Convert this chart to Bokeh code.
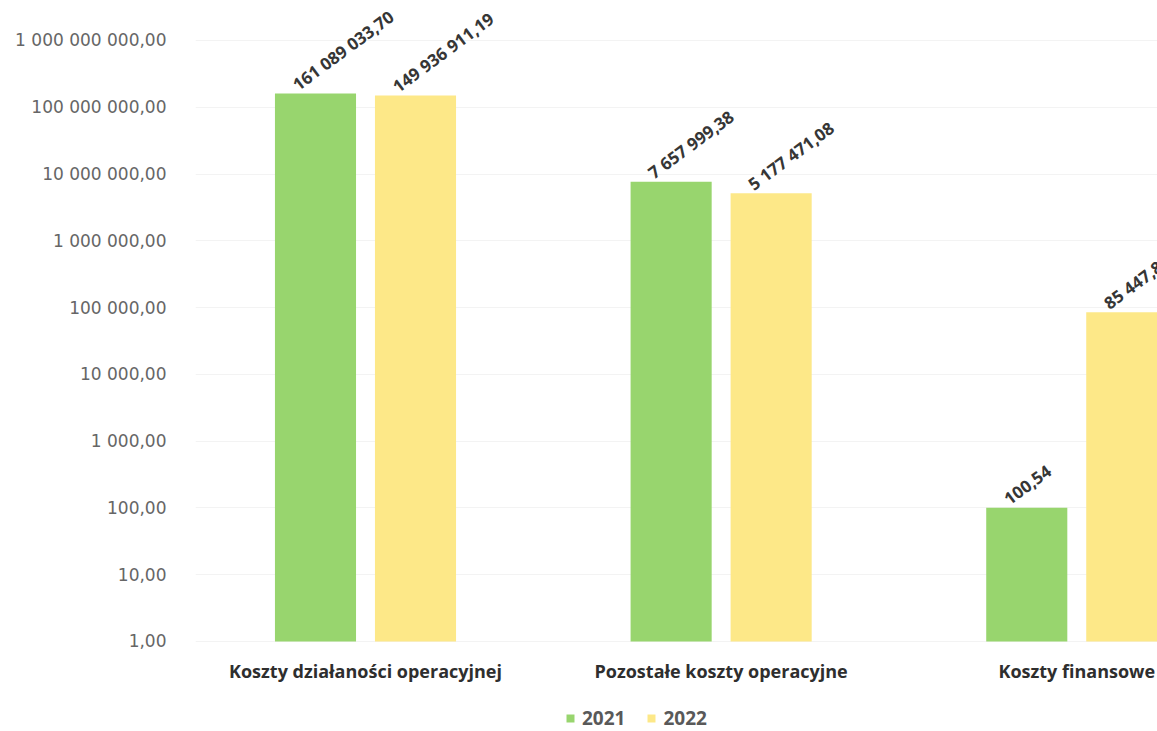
import math
from bokeh.plotting import figure
from bokeh.models import (Range1d, FixedTicker, ColumnDataSource, LabelSet,
                          Legend, LegendItem)
from bokeh.core.properties import value
from bokeh.transform import dodge
from bokeh.embed import file_html
from bokeh.resources import INLINE

# ---- data ----
categories = ["Koszty działaności operacyjnej", "Pozostałe koszty operacyjne", "Koszty finansowe"]
series_names = ["2021", "2022"]
values_2021 = [161089033.70, 7657999.38, 100.54]
values_2022 = [149936911.19, 5177471.08, 85447.88]
labels_2021 = ["161 089 033,70", "7 657 999,38", "100,54"]
labels_2022 = ["149 936 911,19", "5 177 471,08", "85 447,88"]
y_ticks = [1, 10, 100, 1000, 10000, 100000, 1000000, 10000000, 100000000, 1000000000]
y_tick_labels = ["1,00", "10,00", "100,00", "1 000,00", "10 000,00", "100 000,00",
                 "1 000 000,00", "10 000 000,00", "100 000 000,00", "1 000 000 000,00"]

GREEN = "#98d56e"
YELLOW = "#fde888"

idx = list(range(len(categories)))
src = ColumnDataSource(dict(x=idx, v2021=values_2021, v2022=values_2022,
                            l2021=labels_2021, l2022=labels_2022))

p = figure(width=1157, height=731, y_axis_type="log",
           x_range=Range1d(-0.478, 2.227), y_range=Range1d(0.04487, 3.97e9),
           output_backend="svg", toolbar_location=None,
           min_border_left=195, min_border_right=0, min_border_top=0,
           min_border_bottom=0)
p.outline_line_color = None
p.background_fill_color = "white"
p.border_fill_color = "white"

off = 0.1406
bw = 0.228
r1 = p.vbar(x=dodge("x", -off, range=p.x_range), top="v2021", bottom=1, width=bw,
            source=src, fill_color=GREEN, line_color=None)
r2 = p.vbar(x=dodge("x", off, range=p.x_range), top="v2022", bottom=1, width=bw,
            source=src, fill_color=YELLOW, line_color=None)

ang = math.radians(36.5)
lab_kw = dict(angle=ang, x_offset=-17, y_offset=2, text_align="left",
              text_baseline="alphabetic", text_font=value("Open Sans"),
              text_font_style="bold", text_font_size="17px", text_color="#363636")
p.add_layout(LabelSet(x=dodge("x", -off, range=p.x_range), y="v2021", text="l2021",
                      source=src, **lab_kw))
p.add_layout(LabelSet(x=dodge("x", off, range=p.x_range), y="v2022", text="l2022",
                      source=src, **lab_kw))

# y axis
p.yaxis.ticker = FixedTicker(ticks=y_ticks)
p.yaxis.major_label_overrides = {t: s for t, s in zip(y_ticks, y_tick_labels)}
p.yaxis.axis_line_color = None
p.yaxis.major_tick_line_color = None
p.yaxis.minor_tick_line_color = None
p.yaxis.major_label_standoff = 23
p.yaxis.major_label_text_font = "DejaVu Sans"
p.yaxis.major_label_text_font_size = "17px"
p.yaxis.major_label_text_color = "#666666"

# x axis (drawn at the bars' base)
p.xaxis.fixed_location = 1
p.xaxis.ticker = FixedTicker(ticks=idx)
p.xaxis.major_label_overrides = {i: c for i, c in zip(idx, categories)}
p.xaxis.axis_line_color = None
p.xaxis.major_tick_line_color = None
p.xaxis.minor_tick_line_color = None
p.xaxis.major_label_standoff = 12
p.xaxis.major_label_text_font = "Open Sans"
p.xaxis.major_label_text_font_style = "bold"
p.xaxis.major_label_text_font_size = "18px"
p.xaxis.major_label_text_color = "#2e2e2e"

p.xgrid.grid_line_color = None
p.ygrid.grid_line_color = "#f3f3f3"
p.ygrid.minor_grid_line_color = None

legend = Legend(items=[LegendItem(label=series_names[0], renderers=[r1]),
                       LegendItem(label=series_names[1], renderers=[r2])],
                orientation="horizontal", location=(370, 0),
                padding=0, margin=0, spacing=21, label_standoff=7,
                glyph_width=10, glyph_height=10,
                label_text_font="Open Sans", label_text_font_style="bold",
                label_text_font_size="19px", label_text_color="#595959",
                border_line_color=None, background_fill_alpha=0)
p.add_layout(legend, "center")

open("out.html", "w").write(file_html(p, INLINE))
